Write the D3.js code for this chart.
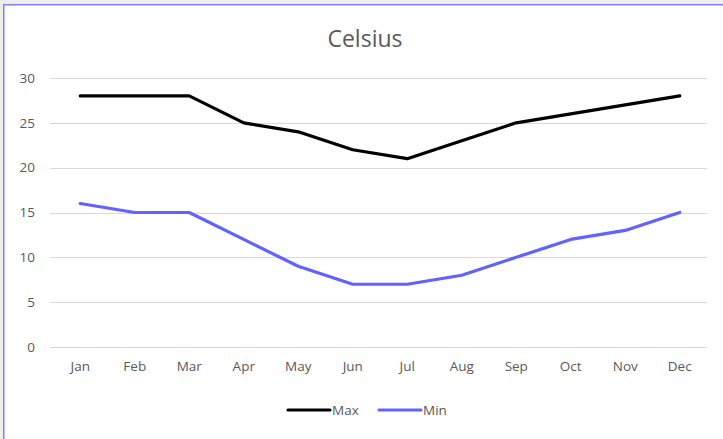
<!DOCTYPE html>
<html><head><meta charset="utf-8">
<script src="https://cdn.jsdelivr.net/npm/d3@7"></script>
<style>
html,body{margin:0;padding:0;background:#eeeeee;}
svg{display:block;}
</style></head>
<body>
<svg id="chart" width="723" height="439"></svg>
<script>
const months = ["Jan","Feb","Mar","Apr","May","Jun","Jul","Aug","Sep","Oct","Nov","Dec"];
const maxValues = [28,28,28,25,24,22,21,23,25,26,27,28];
const minValues = [16,15,15,12,9,7,7,8,10,12,13,15];
const yTicks = [0,5,10,15,20,25,30];
const seriesNames = ["Max","Min"];

const series = [
  {name: seriesNames[0], values: maxValues, color: "#000000"},
  {name: seriesNames[1], values: minValues, color: "#6262ff"}
];

const svg = d3.select("#chart");
const font = "'Open Sans', 'Noto Sans', sans-serif";
const textColor = "#595959";

svg.append("rect").attr("x", 3.75).attr("y", 4.75).attr("width", 730).attr("height", 450)
  .attr("fill", "#ffffff").attr("stroke", "#8080ff").attr("stroke-width", 1.5);

const x = d3.scaleBand().domain(months).range([53, 707]);
const y = d3.scaleLinear().domain([0, 30]).range([347, 78]);

svg.append("g").selectAll("line").data(yTicks).join("line")
  .attr("x1", 50).attr("x2", 707)
  .attr("y1", d => Math.round(y(d)) + 0.5).attr("y2", d => Math.round(y(d)) + 0.5)
  .attr("stroke", "#d9d9d9").attr("stroke-width", 1);

const yAxis = d3.axisLeft(y).tickValues(yTicks).tickSize(0).tickPadding(0);
const gy = svg.append("g").attr("transform", "translate(35,0)").call(yAxis);
gy.select(".domain").remove();
gy.selectAll("text").attr("fill", textColor).style("font-family", font).style("font-size", "13.5px");

const xAxis = d3.axisBottom(x).tickSize(0).tickPadding(0);
const gx = svg.append("g").attr("transform", "translate(0,361)").call(xAxis);
gx.select(".domain").remove();
gx.selectAll("text").attr("fill", textColor).style("font-family", font).style("font-size", "13.5px");

const line = d3.line().x((d, i) => x(months[i]) + x.bandwidth() / 2).y(d => y(d));
svg.append("g").selectAll("path").data(series).join("path")
  .attr("d", d => line(d.values))
  .attr("fill", "none").attr("stroke", d => d.color)
  .attr("stroke-width", 3.2).attr("stroke-linejoin", "round").attr("stroke-linecap", "round");

svg.append("text").attr("x", 365).attr("y", 47).attr("text-anchor", "middle")
  .attr("fill", textColor).style("font-family", font).style("font-size", "23px").text("Celsius");

const legendX = [288, 379];
const lg = svg.append("g").selectAll("g").data(series).join("g")
  .attr("transform", (d, i) => `translate(${legendX[i]},410)`);
lg.append("line").attr("x1", 0).attr("x2", 42).attr("y1", 0).attr("y2", 0)
  .attr("stroke", d => d.color).attr("stroke-width", 3.2).attr("stroke-linecap", "round");
lg.append("text").attr("x", 44).attr("y", 5).attr("fill", textColor)
  .style("font-family", font).style("font-size", "13.5px").text(d => d.name);
</script>
</body></html>
